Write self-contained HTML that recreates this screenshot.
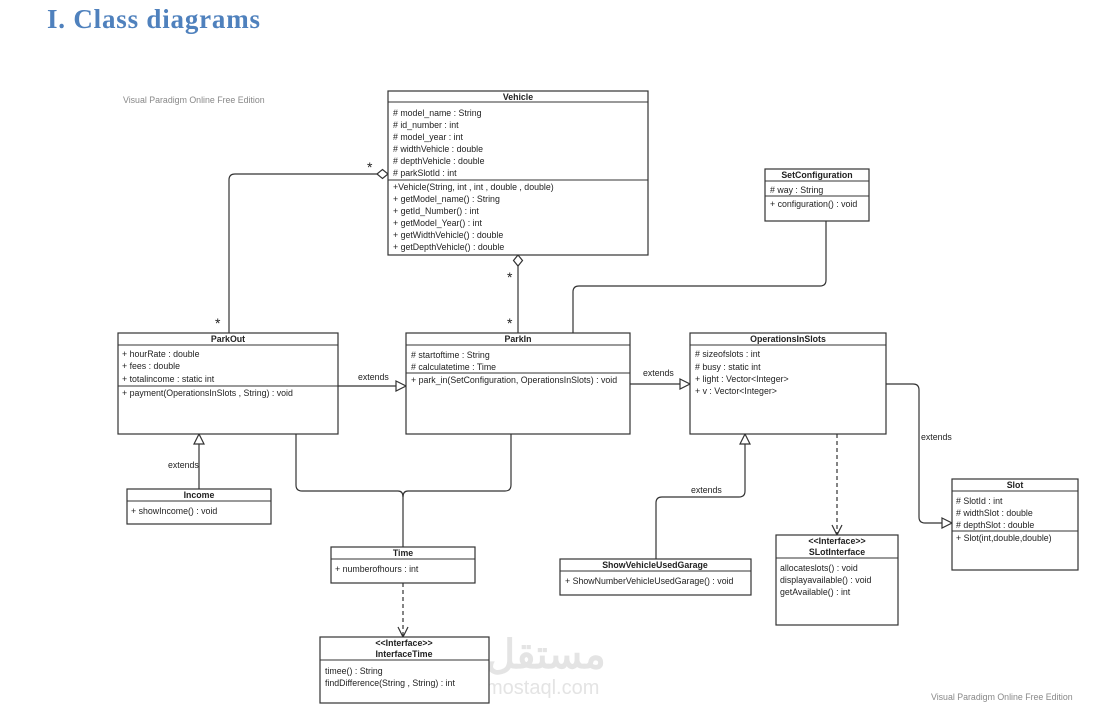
<!DOCTYPE html>
<html><head><meta charset="utf-8"><style>
html,body{margin:0;padding:0;background:#fff;}
svg{display:block;}
text{font-family:"Liberation Sans",sans-serif;font-size:8.8px;fill:#222;}
.b{font-weight:bold;}
</style></head><body>
<svg width="1106" height="713" viewBox="0 0 1106 713" xmlns="http://www.w3.org/2000/svg">
<text x="47" y="28" style="font-family:'Liberation Serif',serif;font-size:27px;font-weight:bold;fill:#4f81bd" textLength="213">I. Class diagrams</text>
<text x="123" y="103" style="fill:#888;font-size:8.8px">Visual Paradigm Online Free Edition</text>
<text x="931" y="700" style="fill:#888;font-size:8.8px">Visual Paradigm Online Free Edition</text>
<text x="486" y="668" style="font-size:40px;font-weight:bold;fill:#e4e4e4">مستقل</text>
<text x="486" y="694" style="font-size:20px;fill:#e4e4e4">mostaql.com</text>

<g fill="none" stroke="#333" stroke-width="1.2">
<path d="M229 333 V180 Q229 174 235 174 H377"/>
<path d="M377 174 L382.5 169.5 L388 174 L382.5 178.5 Z" fill="#fff"/>
<path d="M518 266 V333"/>
<path d="M518 255 L522.5 260.5 L518 266 L513.5 260.5 Z" fill="#fff"/>
<path d="M826 221 V280 Q826 286 820 286 H579 Q573 286 573 292 V333"/>
<path d="M338 386 H396"/>
<path d="M396 381 L406 386 L396 391 Z" fill="#fff"/>
<path d="M630 384 H680"/>
<path d="M680 379 L690 384 L680 389 Z" fill="#fff"/>
<path d="M886 384 H913 Q919 384 919 390 V517 Q919 523 925 523 H942"/>
<path d="M942 518 L952 523 L942 528 Z" fill="#fff"/>
<path d="M656 559 V503 Q656 497 662 497 H739 Q745 497 745 491 V444"/>
<path d="M740 444 L745 434 L750 444 Z" fill="#fff"/>
<path d="M837 434 V535" stroke-dasharray="4,3"/>
<path d="M832 525 L837 535 L842 525"/>
<path d="M199 489 V444"/>
<path d="M194 444 L199 434 L204 444 Z" fill="#fff"/>
<path d="M296 434 V485 Q296 491 302 491 H398 Q403 491 403 497"/>
<path d="M511 434 V485 Q511 491 505 491 H408 Q403 491 403 497"/>
<path d="M403 497 V547"/>
<path d="M403 583 V637" stroke-dasharray="4,3"/>
<path d="M398 627 L403 637 L408 627"/>
</g>
<text x="367" y="172" style="font-size:14px">*</text>
<text x="215" y="328" style="font-size:14px">*</text>
<text x="507" y="282" style="font-size:14px">*</text>
<text x="507" y="328" style="font-size:14px">*</text>
<text x="358" y="380">extends</text>
<text x="643" y="376">extends</text>
<text x="921" y="440">extends</text>
<text x="691" y="493">extends</text>
<text x="168" y="468">extends</text>

<g fill="#fff" stroke="#333" stroke-width="1.2">
<rect x="388" y="91" width="260" height="164"/>
<rect x="118" y="333" width="220" height="101"/>
<rect x="406" y="333" width="224" height="101"/>
<rect x="690" y="333" width="196" height="101"/>
<rect x="765" y="169" width="104" height="52"/>
<rect x="952" y="479" width="126" height="91"/>
<rect x="127" y="489" width="144" height="35"/>
<rect x="331" y="547" width="144" height="36"/>
<rect x="320" y="637" width="169" height="66"/>
<rect x="560" y="559" width="191" height="36"/>
<rect x="776" y="535" width="122" height="90"/>
</g>
<g stroke="#333" stroke-width="1">
<path d="M388 102H648M388 180H648"/>
<path d="M118 345H338M118 386H338"/>
<path d="M406 345H630M406 373H630"/>
<path d="M690 345H886"/>
<path d="M765 181H869M765 196H869"/>
<path d="M952 491H1078M952 531H1078"/>
<path d="M127 501H271"/>
<path d="M331 559H475"/>
<path d="M320 660H489"/>
<path d="M560 571H751"/>
<path d="M776 558H898"/>
</g>

<g text-anchor="middle">
<text x="518" y="100" class="b">Vehicle</text>
<text x="228" y="342" class="b">ParkOut</text>
<text x="518" y="342" class="b">ParkIn</text>
<text x="788" y="342" class="b">OperationsInSlots</text>
<text x="817" y="178" class="b">SetConfiguration</text>
<text x="1015" y="488" class="b">Slot</text>
<text x="199" y="498" class="b">Income</text>
<text x="403" y="556" class="b">Time</text>
<text x="404" y="646" class="b">&lt;&lt;Interface&gt;&gt;</text>
<text x="404" y="657" class="b">InterfaceTime</text>
<text x="655" y="568" class="b">ShowVehicleUsedGarage</text>
<text x="837" y="544" class="b">&lt;&lt;Interface&gt;&gt;</text>
<text x="837" y="555" class="b">SLotInterface</text>
</g>

<text x="393" y="116"># model_name : String</text>
<text x="393" y="128"># id_number : int</text>
<text x="393" y="140"># model_year : int</text>
<text x="393" y="152"># widthVehicle : double</text>
<text x="393" y="164"># depthVehicle : double</text>
<text x="393" y="176"># parkSlotId : int</text>
<text x="393" y="190">+Vehicle(String, int , int , double , double)</text>
<text x="393" y="202">+ getModel_name() : String</text>
<text x="393" y="214">+ getId_Number() : int</text>
<text x="393" y="226">+ getModel_Year() : int</text>
<text x="393" y="238">+ getWidthVehicle() : double</text>
<text x="393" y="250">+ getDepthVehicle() : double</text>

<text x="122" y="357">+ hourRate : double</text>
<text x="122" y="369">+ fees : double</text>
<text x="122" y="382">+ totalincome : static int</text>
<text x="122" y="396">+ payment(OperationsInSlots , String) : void</text>

<text x="411" y="358"># startoftime : String</text>
<text x="411" y="370"># calculatetime : Time</text>
<text x="411" y="383">+ park_in(SetConfiguration, OperationsInSlots) : void</text>

<text x="695" y="357"># sizeofslots : int</text>
<text x="695" y="370"># busy : static int</text>
<text x="695" y="382">+ light : Vector&lt;Integer&gt;</text>
<text x="695" y="394">+ v : Vector&lt;Integer&gt;</text>

<text x="770" y="193"># way : String</text>
<text x="770" y="207">+ configuration() : void</text>

<text x="956" y="504"># SlotId : int</text>
<text x="956" y="516"># widthSlot : double</text>
<text x="956" y="528"># depthSlot : double</text>
<text x="956" y="541">+ Slot(int,double,double)</text>

<text x="131" y="514">+ showIncome() : void</text>
<text x="335" y="572">+ numberofhours : int</text>
<text x="325" y="674">timee() : String</text>
<text x="325" y="686">findDifference(String , String) : int</text>
<text x="565" y="584">+ ShowNumberVehicleUsedGarage() : void</text>
<text x="780" y="571">allocateslots() : void</text>
<text x="780" y="583">displayavailable() : void</text>
<text x="780" y="595">getAvailable() : int</text>
</svg>
</body></html>
